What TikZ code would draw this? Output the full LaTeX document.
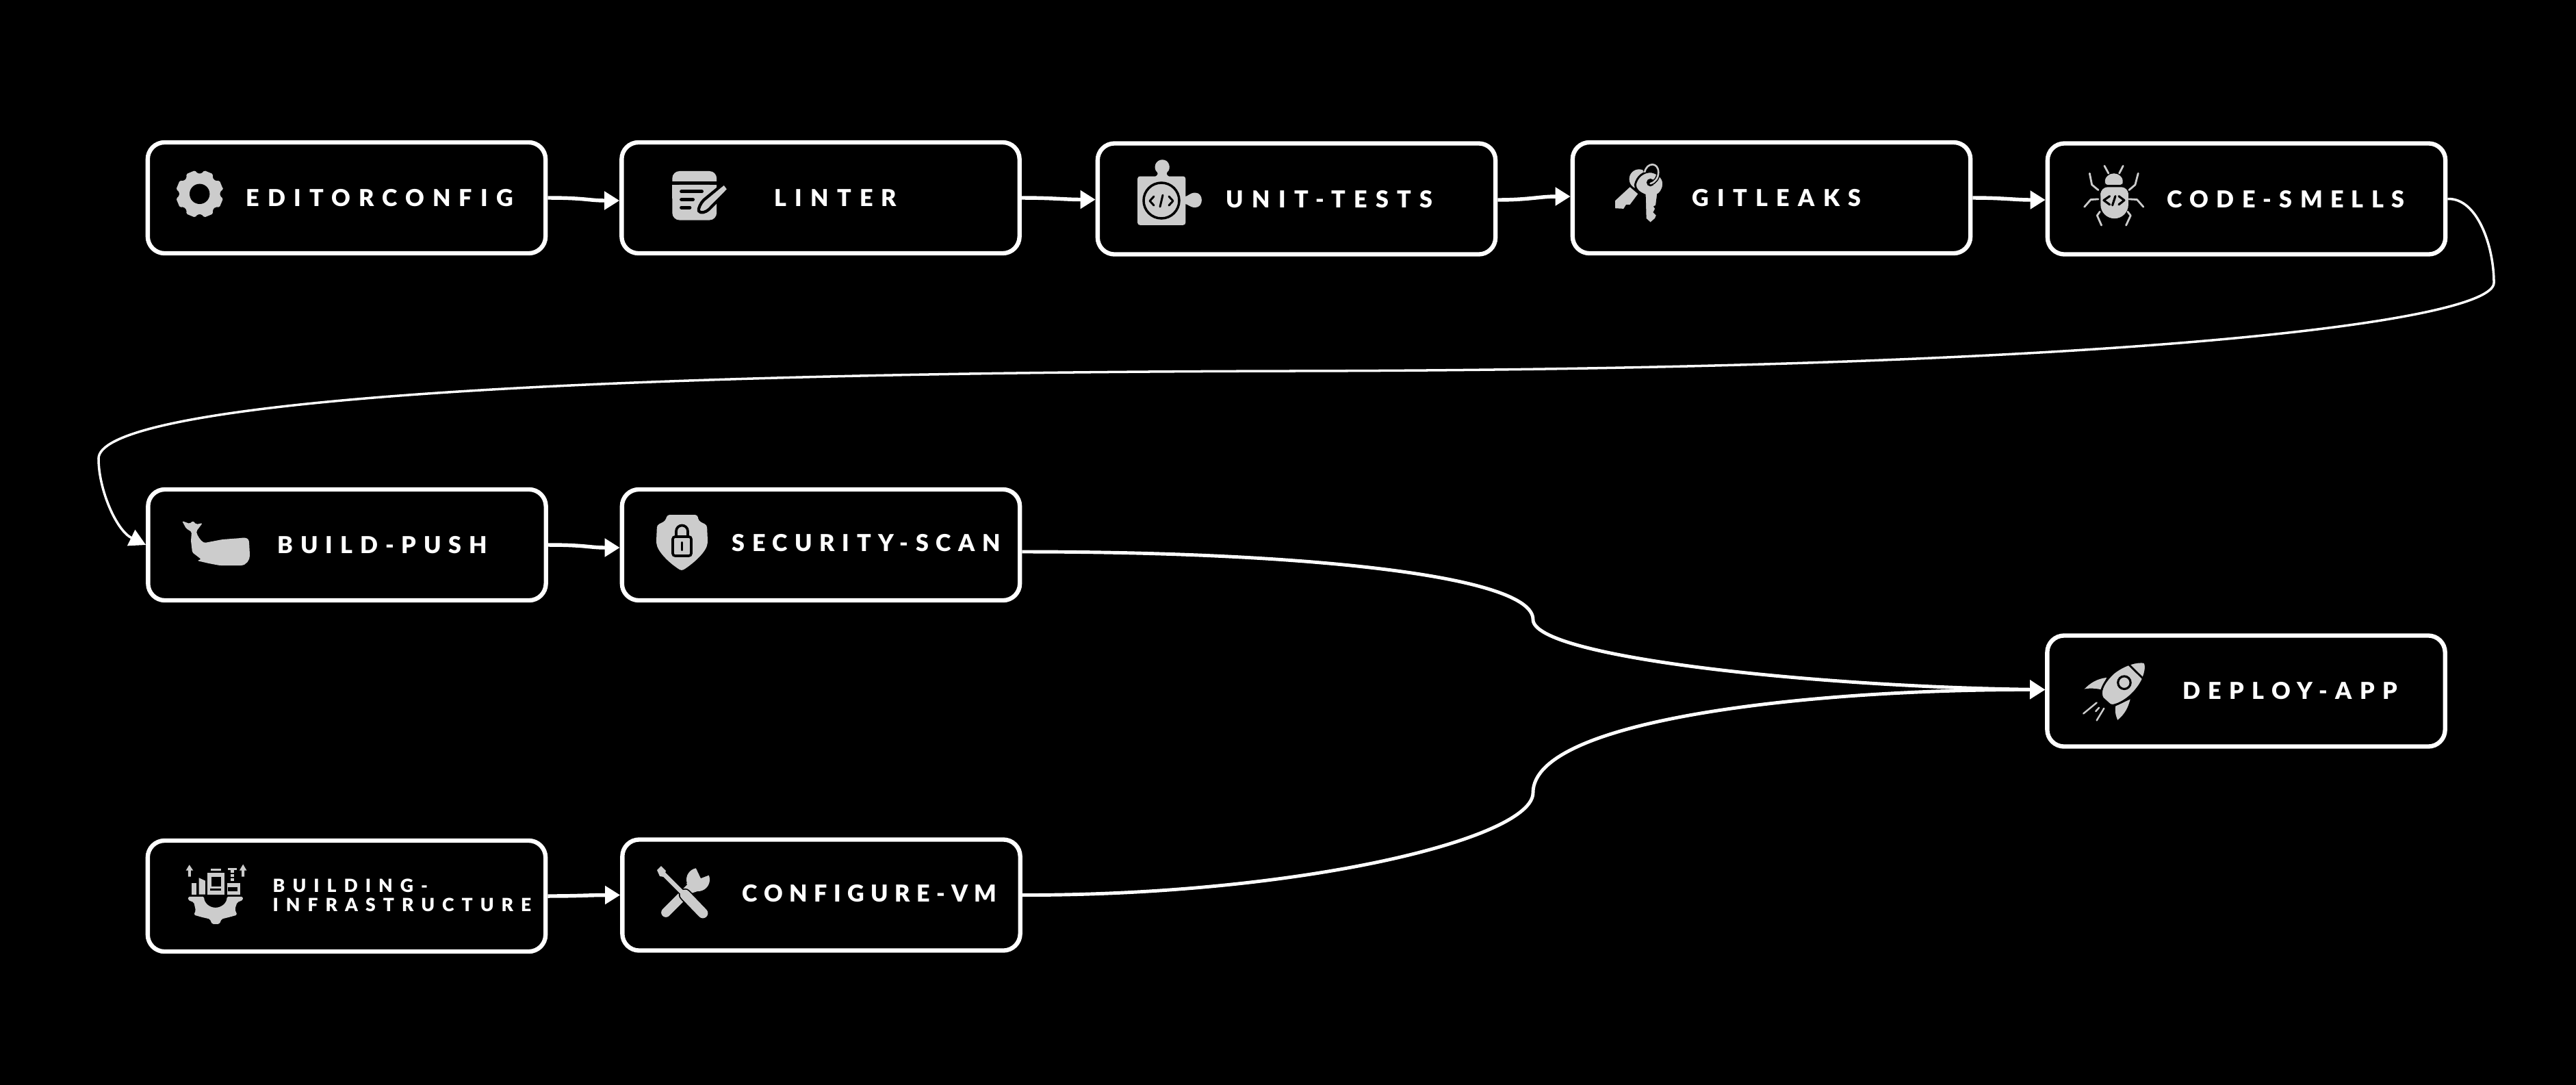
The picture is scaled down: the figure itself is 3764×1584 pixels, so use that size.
\documentclass[tikz,border=0pt]{standalone}
\usepackage{fontspec}
\setmainfont{Lato}[BoldFont={Lato Black}]
\usetikzlibrary{arrows.meta,calc}
\definecolor{icongrey}{HTML}{CCCCCC}
\newcommand{\ltr}[2]{{\addfontfeature{LetterSpace=#1}#2}}
\tikzset{
  stagebox/.style={draw=white,line width=1.8pt,fill=black,rounded corners=7pt,minimum width=5.81cm,minimum height=1.62cm,inner sep=0pt},
  lab/.style={text=white,inner sep=0pt,anchor=west,font=\bfseries\fontsize{9.7}{12}\selectfont},
  labsmall/.style={text=white,inner sep=0pt,anchor=west,align=left,font=\bfseries\fontsize{7.55}{8}\selectfont},
  flow/.style={draw=white,line width=1.55pt,-{Triangle[length=6.3pt,width=7.4pt]}},
  longflow/.style={draw=white,line width=1pt,-{Triangle[length=6.8pt,width=7.2pt]}},
  midflow/.style={draw=white,line width=1.4pt,-{Triangle[length=6.3pt,width=7.6pt]}},
  ico/.style={fill=icongrey,draw=none},
  icoline/.style={draw=icongrey,line cap=round,line join=round,fill=none},
  cut/.style={draw=black,line cap=round,line join=round,fill=none},
  zm/.style n args={4}{shift={(#1,#2)},x=#3 cm,y=-#4 cm}
}
\begin{document}
\begin{tikzpicture}[x=0.01cm,y=-0.01cm]
\useasboundingbox (0,0) rectangle (3764,1584);
\fill[black] (-20,-20) rectangle (3784,1604);

% boxes
\node[stagebox] (n1) at (506.5,289) {};
\node[stagebox] (n2) at (1199,289) {};
\node[stagebox] (n3) at (1894.5,290.5) {};
\node[stagebox] (n4) at (2588.5,289) {};
\node[stagebox] (n5) at (3282.5,290.5) {};
\node[stagebox] (n6) at (507,796) {};
\node[stagebox] (n7) at (1199.5,796) {};
\node[stagebox] (n8) at (3282,1009.5) {};
\node[stagebox] (n9) at (506.5,1309) {};
\node[stagebox] (n10) at (1200,1307.5) {};

% labels
\node[lab] (t1) at (359,289.5) {\ltr{35.5}{EDITORCONFIG}};
\node[lab] (t2) at (1131,289) {\ltr{35.6}{LINTER}};
\node[lab] (t3) at (1791,291) {\ltr{36}{UNIT-TESTS}};
\node[lab] (t4) at (2472,289.5) {\ltr{36}{GITLEAKS}};
\node[lab] (t5) at (3166,291.5) {\ltr{33}{CODE-SMELLS}};
\node[lab] (t6) at (405,796) {\ltr{32}{BUILD-PUSH}};
\node[lab] (t7) at (1069,793) {\ltr{31}{SECURITY-SCAN}};
\node[labsmall] (t9) at (398,1307.5) {\ltr{41.5}{BUILDING-}\\\ltr{41.5}{INFRASTRUCTURE}};
\node[lab] (t10) at (1084,1305) {\ltr{28}{CONFIGURE-VM}};
\node[lab] (t8) at (3189,1009.5) {\ltr{33}{DEPLOY-APP}};

% connectors
\draw[flow] (n1.east) .. controls +(55,0) and +(-45,0) .. ($(n2.west)+(0,4)$);
\draw[flow] (n2.east) .. controls +(45,0) and +(-45,0) .. ($(n3.west)+(0,1)$);
\draw[flow] ($(n3.east)+(0,1.5)$) .. controls +(45,0) and +(-45,0) .. ($(n4.west)+(0,-2)$);
\draw[flow] (n4.east) .. controls +(45,0) and +(-45,0) .. ($(n5.west)+(0,1.5)$);
\draw[flow] (n6.east) .. controls +(55,0) and +(-45,0) .. ($(n7.west)+(0,4)$);
\draw[flow] (n9.east) .. controls +(45,0) and +(-45,0) .. (n10.west);

\coordinate (r1) at (3644,413);
\coordinate (r2) at (1880,542);
\coordinate (r3) at (144,670);
\draw[longflow] (n5.east) .. controls (3620,289) and (3644,360) .. (r1)
  .. controls (3644,470) and (3100,540) .. (r2)
  .. controls (640,545) and (144,600) .. (r3)
  .. controls (144,715) and (170,775) .. (n6.west);

\coordinate (m1) at (2240,905);
\coordinate (m2) at (2240,1158);
\draw[midflow] ($(n7.east)+(0,10)$) .. controls (1900,806) and (2240,840) .. (m1)
  .. controls (2240,960) and (2650,1003) .. ($(n8.west)+(0,-2)$);
\draw[midflow] (n10.east) .. controls (1900,1308) and (2240,1225) .. (m2)
  .. controls (2240,1050) and (2650,1007) .. ($(n8.west)+(0,-2)$);

% gear
\begin{scope}[shift={(291.7,283.3)}]
\fill[ico,even odd rule] [rounded corners=0.5pt] (-11:35)
  \foreach \a in {0,45,...,315}{ -- ({\a-11}:35) -- ({\a-6}:30) -- ({\a+6}:30) -- ({\a+11}:35) } -- cycle;
\fill[black] (0,0) circle[radius=14.7];
\end{scope}

% linter
\begin{scope}[zm={950}{230}{.003333}{.003333}]
\fill[ico,rounded corners=3pt] (97,180) -- (97,60) -- (292,60) -- (292,180) -- cycle;
\fill[black] (90,105) rectangle (300,120);
\fill[ico,rounded corners=3pt] (97,120) -- (97,275) -- (292,275) -- (292,120) -- cycle;
\fill[ico] (97,120) rectangle (292,180);
\draw[cut,line width=1.4pt] (137,150) -- (227,150) (137,185) -- (188,185) (137,220) -- (174,220);
\filldraw[fill=icongrey,draw=black,line width=1.2pt,line join=round] (325,113) -- (345,140) -- (258,228) .. controls (245,240) and (222,248) .. (213,235) .. controls (210,225) and (222,200) .. (235,187) -- cycle;
\end{scope}

% puzzle
\begin{scope}[zm={1560}{180}{.006378}{.003333}]
\fill[ico,rounded corners=1pt] (160,233) rectangle (270,447);
\fill[ico] (217,160) .. controls (200,160) and (195,200) .. (205,215) .. controls (208,222) and (205,230) .. (200,235) -- (233,235) .. controls (228,230) and (225,222) .. (228,215) .. controls (238,200) and (233,160) .. (217,160) -- cycle;
\fill[ico] (268,322) .. controls (275,322) and (280,305) .. (292,305) .. controls (312,305) and (312,370) .. (292,370) .. controls (280,370) and (275,354) .. (268,354) -- cycle;
\end{scope}
\draw[black,line width=1pt] (1697,293) circle[radius=26];
\draw[cut,line width=0.85pt] (1686,287) -- (1680,293.5) -- (1686,300) (1699,285) -- (1695,302) (1708,287) -- (1714,293.5) -- (1708,300);

% keys
\begin{scope}[zm={2340}{225}{.003333}{.003333}]
\fill[ico] (165,110) circle[radius=43];
\fill[ico,line join=round] (125,145) -- (60,205) -- (60,238) -- (97,240) -- (108,222) -- (125,222) -- (160,175) -- cycle;
\filldraw[fill=icongrey,draw=black,line width=0.8pt] (148,135) .. controls (155,100) and (185,75) .. (220,78) .. controls (255,85) and (275,110) .. (272,135) .. controls (270,160) and (255,175) .. (248,178) -- (240,240) -- (232,228) -- (240,240) -- (232,255) -- (245,268) -- (238,285) -- (215,305) -- (193,285) -- (190,180) .. controls (165,170) and (148,155) .. (148,135) -- cycle;
\fill[black] (215,125) circle[radius=17];
\draw[draw=black,line width=1.6pt] (190,78) .. controls (200,35) and (250,35) .. (250,80) .. controls (250,105) and (235,125) .. (215,130);
\draw[icoline,line width=0.75pt] (190,78) .. controls (200,35) and (250,35) .. (250,80) .. controls (250,105) and (235,125) .. (215,130);
\end{scope}

% bug
\begin{scope}[zm={3030}{225}{.003333}{.003333}]
\fill[ico,rounded corners=3pt] (118,210) -- (118,145) -- (240,145) -- (240,210) -- cycle;
\fill[ico] (118,170) -- (118,222) arc[x radius=61,y radius=61,start angle=180,end angle=0] -- (240,170) -- cycle;
\fill[ico,rounded corners=1pt] (138,135) -- (138,125) arc[x radius=38.5,y radius=40,start angle=180,end angle=360] -- (215,135) -- cycle;
\draw[icoline,line width=0.8pt] (135,52) -- (153,85) (217,52) -- (200,85)
  (70,85) -- (80,135) -- (108,158) (283,85) -- (270,135) -- (243,158)
  (108,198) -- (75,200) -- (47,232) (243,198) -- (278,200) -- (306,232)
  (115,253) -- (103,270) -- (122,313) (237,253) -- (250,270) -- (230,313);
\draw[cut,line width=0.9pt] (158,185) -- (132,203) -- (158,222) (183,185) -- (170,225) (198,185) -- (222,203) -- (198,222);
\end{scope}

% whale
\fill[ico,rounded corners=0.5pt] (266,761) -- (272,772) -- (280,777) -- (279,790) -- (281,807) -- (294,817) -- (288,819) -- (305,823) -- (321,826) -- (350,826) .. controls (360,826) and (365,818) .. (365,810) -- (364,792) .. controls (363,786) and (358,785) .. (352,786) -- (325,788) -- (299,793) .. controls (293,790) and (288,782) .. (287,776) -- (296,764) -- (287,766) -- (282,761) -- (277,765) -- cycle;

% shield and lock
\fill[ico,rounded corners=1pt] (975,752) -- (1019,752) -- (1021,761) -- (1033,767) -- (1034,790) .. controls (1033,805) and (1015,822) .. (996,834) .. controls (977,822) and (960,805) .. (959,790) -- (960,767) -- (972,761) -- cycle;
\filldraw[fill=icongrey,draw=black,line width=1.05pt,rounded corners=1pt] (983,784) rectangle (1010,812);
\draw[black,line width=1.05pt] (988,784) -- (988,776) arc[x radius=8.5,y radius=8.5,start angle=180,end angle=360] -- (1005,784);
\draw[cut,line width=1.1pt] (996.5,793) -- (996.5,803);

% infrastructure
\begin{scope}[zm={250}{1240}{.003333}{.003333}]
\fill[ico] (75,122) -- (75,95) -- (65,95) -- (80,70) -- (97,95) -- (87,95) -- (87,122) -- cycle;
\fill[ico] (310,122) -- (310,95) -- (300,95) -- (316,68) -- (332,95) -- (322,95) -- (322,122) -- cycle;
\fill[ico] (90,150) rectangle (112,200);
\fill[ico] (122,127) -- (150,140) -- (150,200) -- (122,200) -- cycle;
\fill[ico] (160,105) rectangle (235,200);
\fill[black] (178,122) rectangle (220,165);
\fill[black] (172,175) rectangle (220,182);
\fill[ico] (175,88) rectangle (218,95);
\fill[ico] (245,150) rectangle (302,200);
\fill[black] (248,168) rectangle (290,187);
\fill[ico] (248,85) rectangle (288,92);
\fill[ico] (262,92) rectangle (275,105);
\fill[ico] (262,112) rectangle (275,122);
\fill[ico] (262,130) rectangle (275,142);
\fill[ico,rounded corners=0.5pt] (75,210) -- (75,225) -- (100,235) -- (108,270) -- (100,290) -- (135,300) -- (170,308) -- (180,330) -- (212,330) -- (222,308) -- (262,298) -- (290,290) -- (280,265) -- (290,235) -- (315,225) -- (315,210) -- (245,210) arc[x radius=50,y radius=48,start angle=0,end angle=180] -- cycle;
\end{scope}

% tools
\draw[icongrey,line width=3.9pt,line cap=round] (973,1333) -- (1010,1296);
\fill[ico] (1020,1285) circle[radius=17];
\fill[black] (1014,1262) -- (1024,1283) -- (1037,1278) -- (1042,1262) -- cycle;
\fill[ico] (1003,1290) -- (1010,1305) -- (1025,1300) -- cycle;
\draw[black,line width=5.2pt,line cap=round] (1001,1307) -- (1027,1334);
\draw[black,line width=2.8pt] (968,1275) -- (996,1303);
\draw[icongrey,line width=4.2pt,line cap=round] (1001,1307) -- (1027,1334);
\draw[icongrey,line width=1.9pt] (968,1275) -- (998,1305);
\fill[ico] (960,1271) -- (966,1265) -- (973,1272) -- (970,1281) -- (964,1280) -- cycle;

% rocket
\begin{scope}[zm={2850}{900}{.004847}{.003333}]
\fill[ico] (470,270) .. controls (440,275) and (420,295) .. (403,320) .. controls (420,315) and (440,318) .. (452,322) -- cycle;
\fill[ico] (541,365) .. controls (535,400) and (525,430) .. (503,456) .. controls (495,430) and (495,410) .. (497,395) -- cycle;
\filldraw[fill=icongrey,draw=black,line width=0.8pt] (585,203) .. controls (560,195) and (520,215) .. (490,250) .. controls (465,285) and (450,320) .. (455,350) .. controls (460,375) and (475,390) .. (487,392) .. controls (520,385) and (560,335) .. (578,280) .. controls (588,245) and (590,220) .. (585,203) -- cycle;
\draw[black,line width=0.8pt] (535,210) -- (580,275);
\draw[black,line width=0.8pt] (450,350) -- (482,392);
\draw[black,line width=0.9pt] (523,292) ellipse[x radius=19,y radius=28];
\draw[icoline,line width=0.7pt] (440,380) -- (400,428) (447,402) -- (437,418) (462,405) -- (440,458);
\end{scope}
\end{tikzpicture}
\end{document}
